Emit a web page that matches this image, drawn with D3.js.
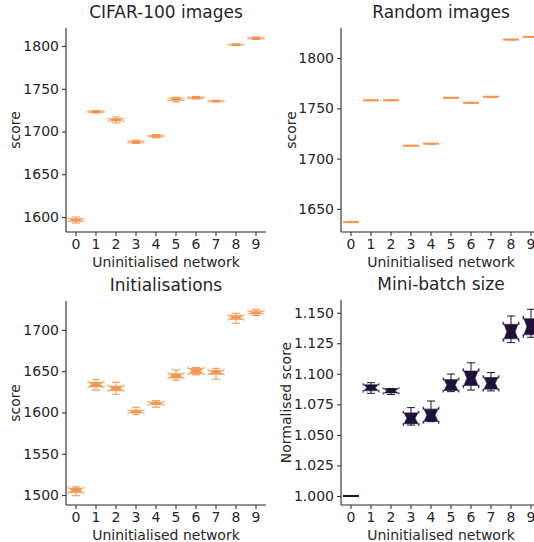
<!DOCTYPE html>
<html>
<head>
<meta charset="utf-8">
<script src="https://cdn.jsdelivr.net/npm/d3@7"></script>
<style>
  body { margin: 0; background: #fff; }
  text { font-family: "DejaVu Sans", sans-serif; fill: #262626; }
</style>
</head>
<body>
<div id="chart"></div>
<script>
let networks = [0, 1, 2, 3, 4, 5, 6, 7, 8, 9];

// CIFAR-100 images
let cifarMed = [1596.5, 1723, 1713.5, 1688, 1694.5, 1737.5, 1739.5, 1735.5, 1801.5, 1809];
let cifarQ1  = [1595, 1722.3, 1712.3, 1687, 1693.7, 1736.4, 1738.7, 1735, 1801, 1808.3];
let cifarQ3  = [1598, 1724, 1715, 1689, 1695.5, 1739, 1740.3, 1736, 1802, 1809.8];
let cifarLo  = [1593, 1721.5, 1710, 1686, 1692.5, 1734.5, 1738, 1734.5, 1800.5, 1807.5];
let cifarHi  = [1600, 1724.5, 1717, 1690, 1696.5, 1740, 1741, 1736.5, 1802.5, 1810.5];

// Random images (single value per network)
let randomVal = [1636.8, 1758, 1758, 1712.9, 1714.9, 1760.6, 1755.6, 1761.6, 1818.5, 1821.2];

// Initialisations
let initMed = [1506, 1634, 1629.3, 1601, 1611.1, 1644.6, 1650.3, 1648.7, 1715, 1721];
let initQ1  = [1503, 1631, 1626.5, 1599.5, 1609.5, 1641.8, 1647, 1646.2, 1712.7, 1719.3];
let initQ3  = [1508.5, 1636.5, 1632, 1602.8, 1612.8, 1647, 1653.5, 1651, 1717.3, 1722.7];
let initLo  = [1499.2, 1626.9, 1622, 1597.8, 1606.3, 1639, 1645.5, 1640.2, 1708.1, 1717.4];
let initHi  = [1510, 1640.2, 1636.6, 1606.3, 1614.3, 1651.5, 1654.3, 1653.5, 1720.2, 1725];

// Mini-batch size (normalised)
let mbMed = [1.000, 1.0886, 1.086, 1.0636, 1.066, 1.0908, 1.0963, 1.0922, 1.1345, 1.1385];
let mbQ1  = [1.000, 1.0863, 1.0843, 1.0592, 1.0611, 1.0864, 1.0905, 1.0875, 1.1287, 1.1321];
let mbQ3  = [1.000, 1.0910, 1.0878, 1.0680, 1.0710, 1.0952, 1.1022, 1.0969, 1.1404, 1.1450];
let mbLo  = [1.000, 1.084, 1.083, 1.058, 1.0608, 1.0854, 1.0867, 1.086, 1.1255, 1.1299];
let mbHi  = [1.000, 1.0927, 1.088, 1.0723, 1.0777, 1.0998, 1.109, 1.101, 1.1473, 1.1528];

let cifarTicks = [1600, 1650, 1700, 1750, 1800];
let randomTicks = [1650, 1700, 1750, 1800];
let initTicks = [1500, 1550, 1600, 1650, 1700];
let mbTicks = [1.000, 1.025, 1.050, 1.075, 1.100, 1.125, 1.150];

let nSamples = 5;
let orange = '#f5934c';
let dark = '#1f1138';

function boxes(med, q1, q3, lo, hi) {
    return networks.map(function (k, i) {
        return { k: k, med: med[i], q1: q1[i], q3: q3[i], lo: lo[i], hi: hi[i] };
    });
}

let panels = [
    { title: 'CIFAR-100 images', ylabel: 'score', left: 66, top: 28, bottom: 232, domain: [1582.5, 1821],
      ticks: cifarTicks, fmt: d3.format('d'), color: orange, labelX: 15,
      data: boxes(cifarMed, cifarQ1, cifarQ3, cifarLo, cifarHi) },
    { title: 'Random images', ylabel: 'score', left: 341, top: 28, bottom: 232, domain: [1627, 1830],
      ticks: randomTicks, fmt: d3.format('d'), color: orange, labelX: 291,
      data: boxes(randomVal, randomVal, randomVal, randomVal, randomVal) },
    { title: 'Initialisations', ylabel: 'score', left: 66, top: 301, bottom: 505, domain: [1488, 1735],
      ticks: initTicks, fmt: d3.format('d'), color: orange, labelX: 15,
      data: boxes(initMed, initQ1, initQ3, initLo, initHi) },
    { title: 'Mini-batch size', ylabel: 'Normalised score', left: 341, top: 300, bottom: 505, domain: [0.9926, 1.1604],
      ticks: mbTicks, fmt: d3.format('.3f'), color: dark, labelX: 286,
      data: boxes(mbMed, mbQ1, mbQ3, mbLo, mbHi) }
];

let svg = d3.select('#chart').append('svg').attr('width', 534).attr('height', 542);

function drawPanel(p) {
    let width = 200;
    let x = d3.scaleBand().domain(networks).range([p.left, p.left + width]).paddingInner(0).paddingOuter(0);
    let y = d3.scaleLinear().domain(p.domain).range([p.bottom, p.top]);
    let g = svg.append('g');

    let yAxis = d3.axisLeft(y).tickValues(p.ticks).tickFormat(p.fmt).tickSize(4).tickPadding(3);
    let xAxis = d3.axisBottom(x).tickSize(4).tickPadding(3);

    let ya = g.append('g').attr('transform', 'translate(' + p.left + ',0)').call(yAxis);
    let xa = g.append('g').attr('transform', 'translate(0,' + p.bottom + ')').call(xAxis);
    [ya, xa].forEach(function (a) {
        a.select('.domain').attr('stroke', '#262626').attr('stroke-width', 1.1);
        a.selectAll('.tick line').attr('stroke', '#262626');
        a.selectAll('.tick text').style('font-size', '14px').attr('fill', '#262626');
    });
    // drop the outer end ticks of the domain paths
    xa.select('.domain').attr('d', 'M' + p.left + ',0H' + (p.left + width));
    ya.select('.domain').attr('d', 'M0,' + p.top + 'V' + p.bottom);

    g.append('text').attr('x', p.left + width / 2).attr('y', p.top - 10)
        .attr('text-anchor', 'middle').style('font-size', '17px').text(p.title);
    g.append('text').attr('x', p.left + width / 2).attr('y', p.bottom + 35)
        .attr('text-anchor', 'middle').style('font-size', '14px').text('Uninitialised network');
    g.append('text').attr('transform', 'translate(' + p.labelX + ',' + ((p.top + p.bottom) / 2) + ') rotate(-90)')
        .attr('text-anchor', 'middle').attr('dy', '0.35em').style('font-size', '14px').text(p.ylabel);

    let bw = x.bandwidth() * 0.8;
    let items = g.append('g').selectAll('g').data(p.data).enter().append('g');

    // whiskers
    items.append('line')
        .attr('x1', function (d) { return x(d.k) + x.bandwidth() / 2; })
        .attr('x2', function (d) { return x(d.k) + x.bandwidth() / 2; })
        .attr('y1', function (d) { return y(d.lo); })
        .attr('y2', function (d) { return y(d.hi); })
        .attr('stroke', p.color).attr('stroke-width', 1);
    ['lo', 'hi'].forEach(function (key) {
        items.append('line')
            .attr('x1', function (d) { return x(d.k) + x.bandwidth() / 2 - bw / 4; })
            .attr('x2', function (d) { return x(d.k) + x.bandwidth() / 2 + bw / 4; })
            .attr('y1', function (d) { return y(d[key]); })
            .attr('y2', function (d) { return y(d[key]); })
            .attr('stroke', p.color).attr('stroke-width', 1);
    });

    // notched box
    items.append('path')
        .attr('d', function (d) {
            let c = x(d.k) + x.bandwidth() / 2;
            let l = c - bw / 2, r = c + bw / 2;
            let iqr = d.q3 - d.q1;
            let nlo = d.med - 1.57 * iqr / Math.sqrt(nSamples);
            let nhi = d.med + 1.57 * iqr / Math.sqrt(nSamples);
            let pts = [
                [l, y(d.q1)], [l, y(nlo)], [c - bw / 4, y(d.med)], [l, y(nhi)], [l, y(d.q3)],
                [r, y(d.q3)], [r, y(nhi)], [c + bw / 4, y(d.med)], [r, y(nlo)], [r, y(d.q1)]
            ];
            return d3.line()(pts) + 'Z';
        })
        .attr('fill', p.color)
        .attr('fill-opacity', p.color === dark ? 1 : 0.9)
        .attr('stroke', p.color)
        .attr('stroke-opacity', 0.6)
        .attr('stroke-width', 1.2);

    // median
    items.append('line')
        .attr('x1', function (d) { return x(d.k) + x.bandwidth() / 2 - bw / 4; })
        .attr('x2', function (d) { return x(d.k) + x.bandwidth() / 2 + bw / 4; })
        .attr('y1', function (d) { return y(d.med); })
        .attr('y2', function (d) { return y(d.med); })
        .attr('stroke', p.color).attr('stroke-width', 1.5);
    // flat boxes (no spread) drawn as a full-width line
    items.filter(function (d) { return d.q1 === d.q3; }).append('line')
        .attr('x1', function (d) { return x(d.k) + x.bandwidth() / 2 - bw / 2; })
        .attr('x2', function (d) { return x(d.k) + x.bandwidth() / 2 + bw / 2; })
        .attr('y1', function (d) { return y(d.med); })
        .attr('y2', function (d) { return y(d.med); })
        .attr('stroke', p.color).attr('stroke-width', 2);
}

panels.forEach(drawPanel);
</script>
</body>
</html>
